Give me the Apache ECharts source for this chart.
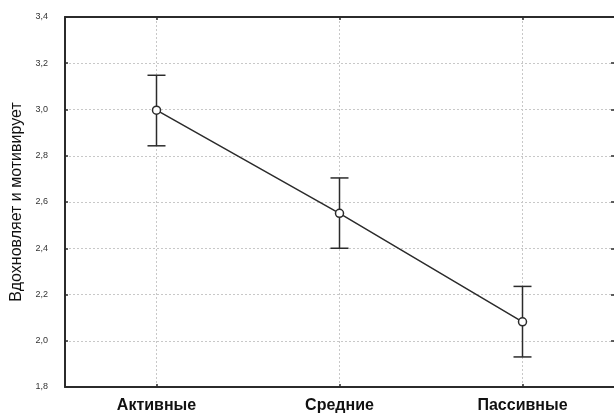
<!DOCTYPE html>
<html>
<head>
<meta charset="utf-8">
<script src="https://cdn.jsdelivr.net/npm/echarts@6/dist/echarts.min.js"></script>
<style>
  html, body { margin: 0; padding: 0; background: #fff; }
  #chart { width: 614px; height: 415px; }
</style>
</head>
<body>
<div id="chart"></div>
<script>
// Group means with 95% confidence limits
const categories = ['Активные', 'Средние', 'Пассивные'];
const means = [2.997, 2.551, 2.082];
const lower = [2.843, 2.400, 1.930];
const upper = [3.148, 2.704, 2.235];
const yTicks = { min: 1.8, max: 3.4, step: 0.2 };
const yTitle = 'Вдохновляет и мотивирует';

const ink = '#2b2b2b';
const gridColor = '#c8c8c8';

const errorData = categories.map((c, i) => [i, lower[i], upper[i]]);

const chart = echarts.init(document.getElementById('chart'), null, { renderer: 'canvas' });

chart.setOption({
  animation: false,
  backgroundColor: '#ffffff',
  grid: { left: 65, right: -1, top: 17, bottom: 28, containLabel: false },
  xAxis: [
    {
      type: 'category',
      data: categories,
      position: 'bottom',
      boundaryGap: true,
      axisLine: { show: true, lineStyle: { color: ink, width: 2 } },
      axisTick: { show: true, inside: true, length: 3, alignWithLabel: true, lineStyle: { color: ink, width: 1.5 } },
      axisLabel: { color: '#111', fontWeight: 'bold', fontSize: 16, fontFamily: 'Arial, "Liberation Sans", sans-serif', margin: 11 },
      splitLine: { show: true, alignWithLabel: true, lineStyle: { color: gridColor, type: [2, 2], width: 1 } }
    },
    {
      type: 'category',
      data: categories,
      position: 'top',
      boundaryGap: true,
      axisLine: { show: true, lineStyle: { color: ink, width: 2 } },
      axisTick: { show: true, inside: true, length: 3, alignWithLabel: true, lineStyle: { color: ink, width: 1.5 } },
      axisLabel: { show: false },
      splitLine: { show: false }
    }
  ],
  yAxis: [
    {
      type: 'value',
      min: yTicks.min,
      max: yTicks.max,
      interval: yTicks.step,
      position: 'left',
      name: yTitle,
      nameLocation: 'middle',
      nameGap: 39,
      nameTextStyle: { color: '#111', fontSize: 16, fontFamily: 'Arial, "Liberation Sans", sans-serif' },
      axisLine: { show: true, lineStyle: { color: ink, width: 2 } },
      axisTick: { show: true, inside: true, length: 3, lineStyle: { color: ink, width: 1.5 } },
      axisLabel: {
        color: '#333',
        fontSize: 9,
        fontFamily: '"Liberation Sans Narrow", "Arial Narrow", sans-serif',
        margin: 17,
        formatter: v => v.toFixed(1).replace('.', ',')
      },
      splitLine: { show: true, lineStyle: { color: gridColor, type: [2, 2], width: 1 } }
    },
    {
      type: 'value',
      min: yTicks.min,
      max: yTicks.max,
      interval: yTicks.step,
      position: 'right',
      axisLine: { show: false },
      axisTick: { show: true, inside: true, length: 3, lineStyle: { color: ink, width: 1.5 } },
      axisLabel: { show: false },
      splitLine: { show: false }
    }
  ],
  series: [
    {
      type: 'custom',
      xAxisIndex: 0,
      yAxisIndex: 0,
      data: errorData,
      z: 2,
      renderItem: function (params, api) {
        const x = api.value(0);
        const lo = api.coord([x, api.value(1)]);
        const hi = api.coord([x, api.value(2)]);
        const half = 9;
        const style = { stroke: ink, lineWidth: 1.5, fill: null };
        return {
          type: 'group',
          children: [
            { type: 'line', shape: { x1: hi[0], y1: hi[1], x2: lo[0], y2: lo[1] }, style: style },
            { type: 'line', shape: { x1: hi[0] - half, y1: hi[1], x2: hi[0] + half, y2: hi[1] }, style: style },
            { type: 'line', shape: { x1: lo[0] - half, y1: lo[1], x2: lo[0] + half, y2: lo[1] }, style: style }
          ]
        };
      }
    },
    {
      type: 'line',
      xAxisIndex: 0,
      yAxisIndex: 0,
      data: means,
      z: 3,
      symbol: 'circle',
      symbolSize: 8,
      showSymbol: true,
      lineStyle: { color: ink, width: 1.5 },
      itemStyle: { color: '#ffffff', borderColor: ink, borderWidth: 1.5 }
    }
  ]
});
</script>
</body>
</html>
